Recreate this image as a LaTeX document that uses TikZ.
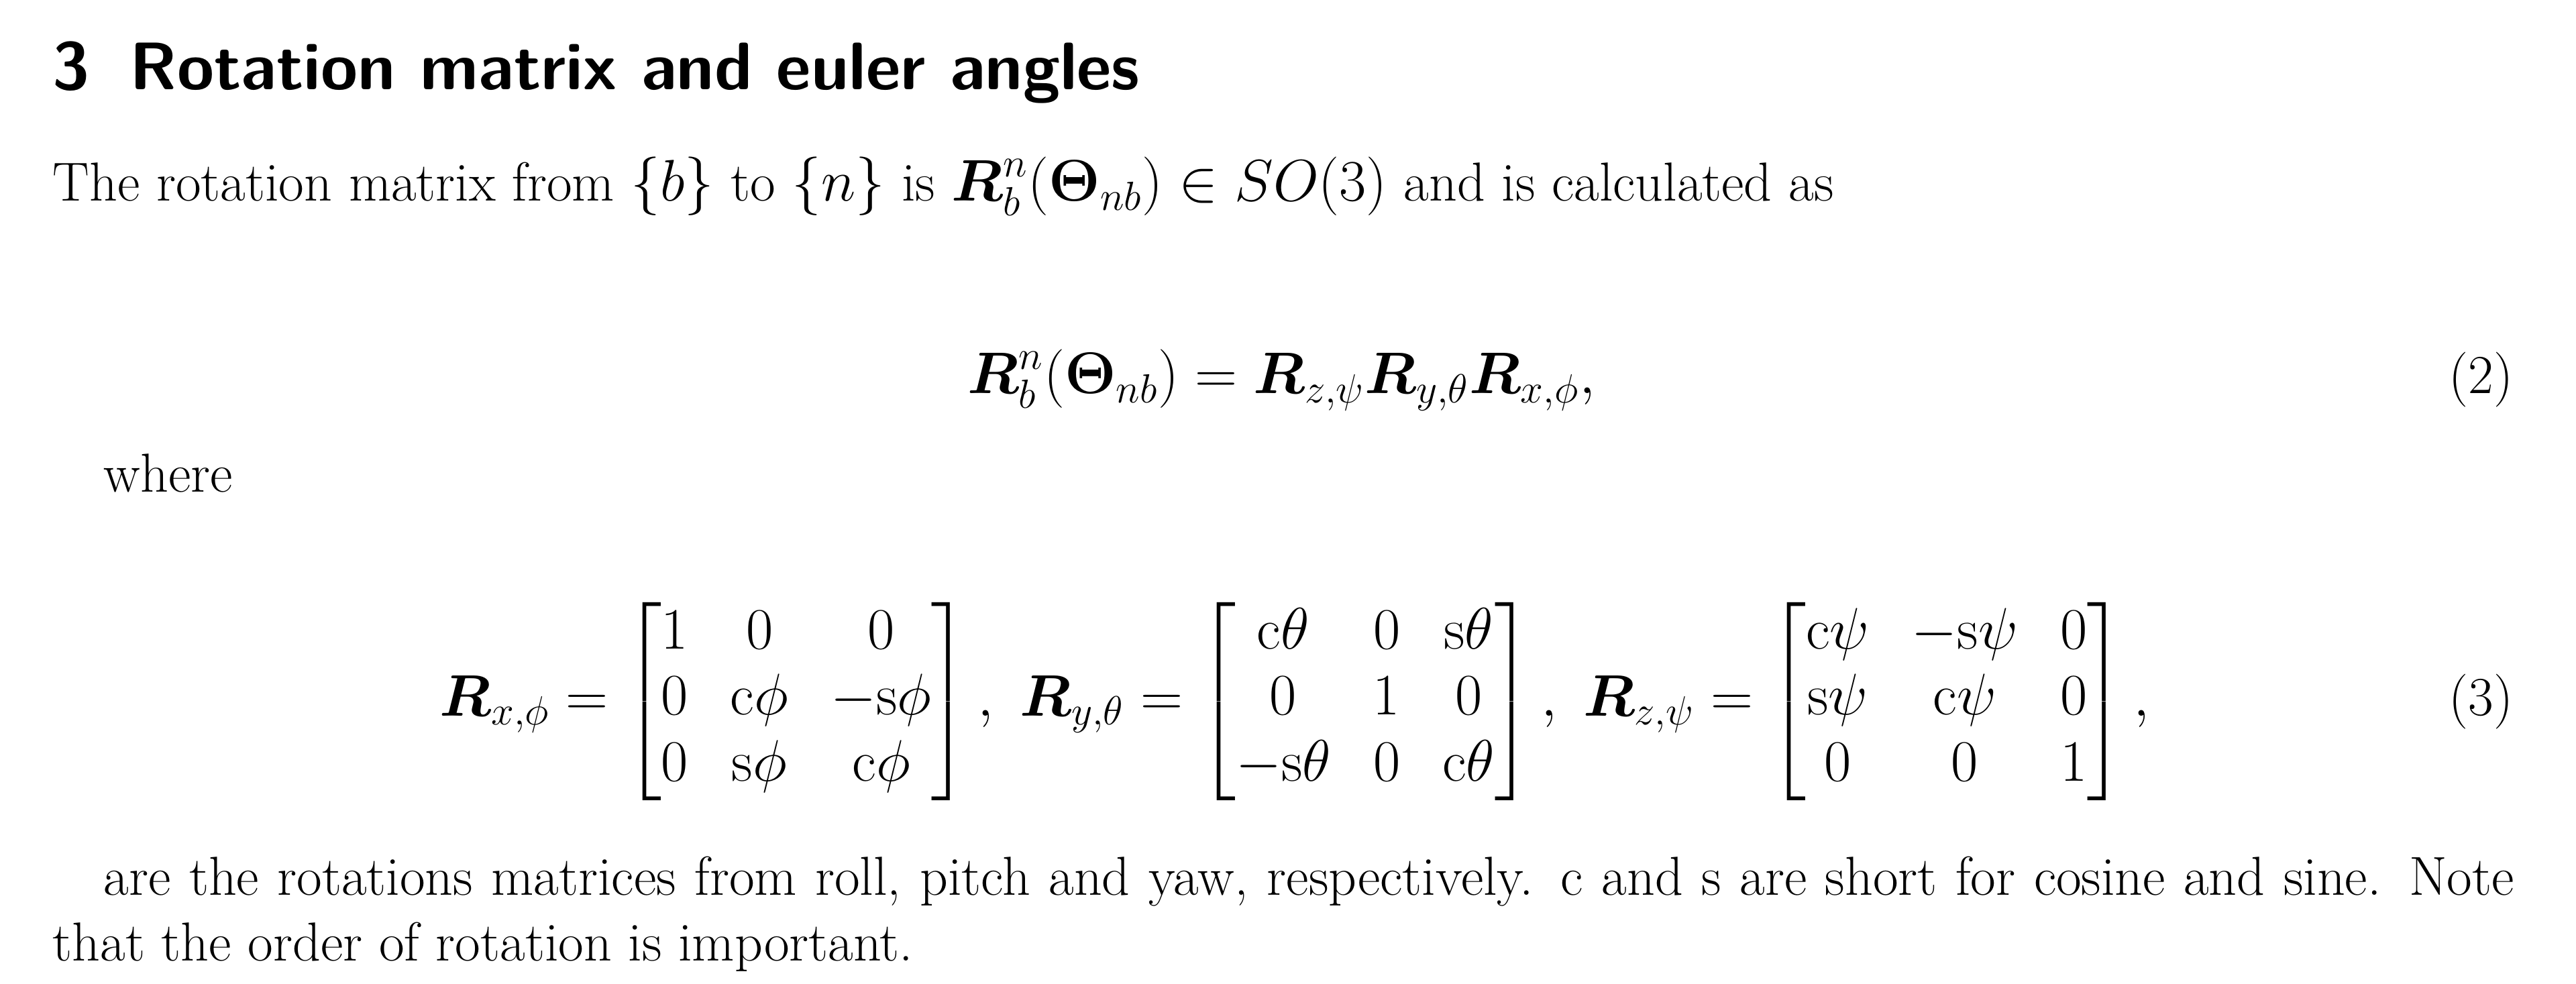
\documentclass[tikz,border=0pt]{standalone}
\usepackage{amsmath}
\usepackage{amssymb}
\usetikzlibrary{positioning}
\newcommand{\bodyfont}{\fontsize{23.3}{28}\selectfont}
\newcommand{\headfont}{\fontsize{28.5}{34}\selectfont\sffamily\bfseries}
\tikzset{
	txt/.style={
		anchor=base west,
		inner sep=0pt,
		font=\bodyfont,
	},
	eqn/.style={
		anchor=base,
		inner sep=0pt,
		font=\bodyfont,
	},
	eqnum/.style={
		anchor=base east,
		inner sep=0pt,
		font=\bodyfont,
	},
}

\begin{document}
\begin{tikzpicture}
		\useasboundingbox (0,0) rectangle (38.4,14.66);
		% Heading and first line
		\node [txt, font=\headfont] (head) at (0.78,13.32) {3\hspace{0.6em}Rotation matrix and euler angles};
		\node [txt] (intro) at (0.78,11.66) {The rotation matrix from $\{b\}$ to $\{n\}$ is $\boldsymbol{R}^n_b(\boldsymbol{\Theta}_{nb})\in SO(3)$ and is calculated as};
		
		% Equation 2
		\node [eqn] (eq2) at (19.1,8.79) {$\displaystyle \boldsymbol{R}^n_b(\boldsymbol{\Theta}_{nb}) = \boldsymbol{R}_{z,\psi}\boldsymbol{R}_{y,\theta}\boldsymbol{R}_{x,\phi},$};
		\node [eqnum] (n2) at (37.47,8.79) {(2)};
		
		\node [txt] (where) at (1.54,7.32) {where};
		
		% Equation 3
		\node [eqn, anchor=center] (eq3) at (19.3,4.2) {\setlength{\arraycolsep}{9pt}$\displaystyle
			\boldsymbol{R}_{x,\phi} = \begin{bmatrix} 1 & 0 & 0\\ 0 & \mathrm{c}\phi & -\mathrm{s}\phi\\ 0 & \mathrm{s}\phi & \mathrm{c}\phi \end{bmatrix},\;
			\boldsymbol{R}_{y,\theta} = \begin{bmatrix} \mathrm{c}\theta & 0 & \mathrm{s}\theta\\ 0 & 1 & 0\\ -\mathrm{s}\theta & 0 & \mathrm{c}\theta \end{bmatrix},\;
			\boldsymbol{R}_{z,\psi} = \begin{bmatrix} \mathrm{c}\psi & -\mathrm{s}\psi & 0\\ \mathrm{s}\psi & \mathrm{c}\psi & 0\\ 0 & 0 & 1 \end{bmatrix},$};
		\node [eqnum, anchor=east] (n3) at (37.47,4.2) {(3)};
		
		% Closing paragraph
		\node [txt, anchor=north west, text width=36.69cm, align=justify] (outro) at (0.78,1.9)
			{\hspace*{0.76cm}are the rotations matrices from roll, pitch and yaw, respectively. c and s are short for cosine and sine. Note\linebreak that the order of rotation is important.};
	\end{tikzpicture}
\end{document}
